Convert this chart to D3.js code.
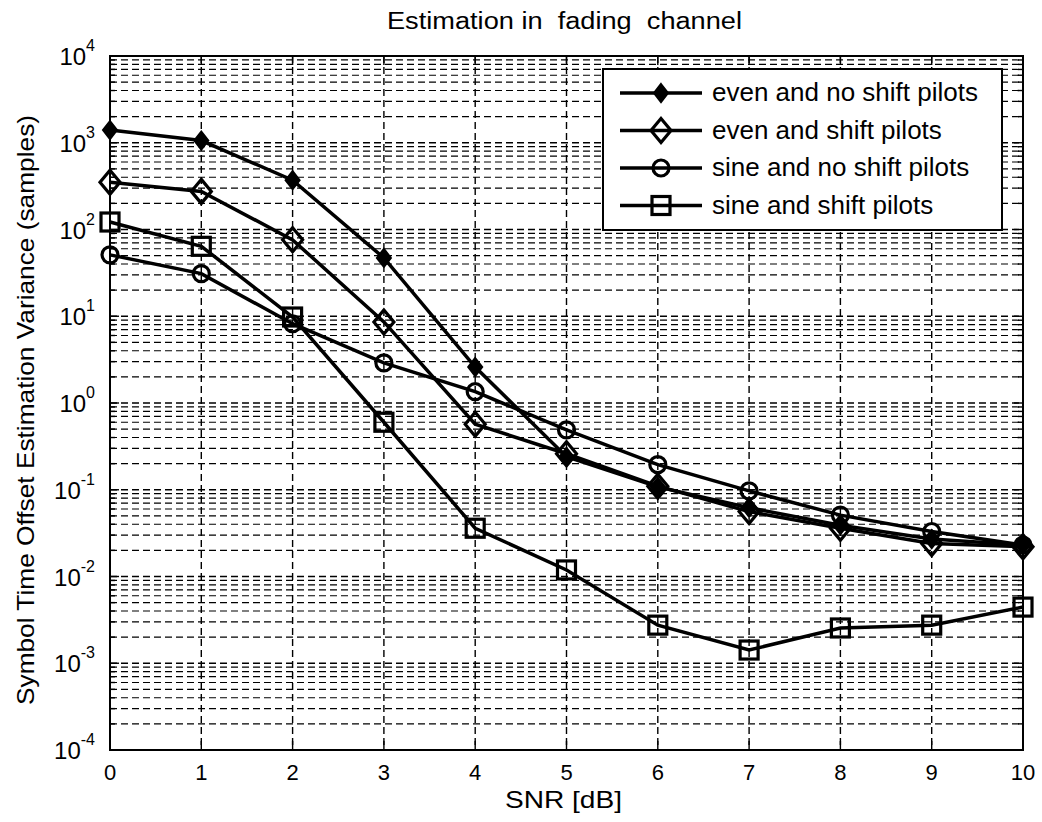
<!DOCTYPE html>
<html><head><meta charset="utf-8">
<script src="https://cdn.jsdelivr.net/npm/d3@7"></script>
<style>
body{margin:0;background:#fff;}
text{font-family:"Liberation Sans",Arial,sans-serif;fill:#000;}
</style></head>
<body><svg id="c" width="1042" height="822"></svg>
<script>
const snr = [0,1,2,3,4,5,6,7,8,9,10];
const evenNoShift = [1400,1060,370,47,2.6,0.24,0.108,0.062,0.039,0.027,0.023];
const evenShift   = [350,275,76,8.6,0.57,0.26,0.11,0.056,0.036,0.024,0.022];
const sineNoShift = [51,31,8.2,2.9,1.35,0.49,0.195,0.097,0.051,0.033,0.023];
const sineShift   = [122,64,9.8,0.6,0.036,0.0119,0.00275,0.00142,0.00255,0.00275,0.00444];
const seriesNames = ["even and no shift pilots","even and shift pilots","sine and no shift pilots","sine and shift pilots"];
const xTicks = [0,1,2,3,4,5,6,7,8,9,10];
const yExponents = [-4,-3,-2,-1,0,1,2,3,4];
const titleText = "Estimation in  fading  channel";
const xLabel = "SNR [dB]";
const yLabel = "Symbol Time Offset Estimation Variance (samples)";

const L=110,T=56,R=1023,B=750;
const svg = d3.select("#c");
const x = d3.scaleLinear().domain([0,10]).range([L,R]);
const y = d3.scaleLog().domain([1e-4,1e4]).range([B,T]);

// grid
const g = svg.append("g").attr("stroke","#000").attr("stroke-width",1.4).attr("stroke-dasharray","7,4");
const minor=[];
yExponents.slice(0,-1).forEach(e=>{for(let k=2;k<=9;k++) minor.push(k*Math.pow(10,e));});
g.selectAll(".ym").data(minor).enter().append("line")
 .attr("x1",L).attr("x2",R).attr("y1",d=>y(d)).attr("y2",d=>y(d)).attr("stroke-width",1.2);
g.selectAll(".yM").data(yExponents.slice(1,-1)).enter().append("line")
 .attr("x1",L).attr("x2",R).attr("y1",d=>y(Math.pow(10,d))).attr("y2",d=>y(Math.pow(10,d)));
g.selectAll(".xM").data(xTicks.slice(1,-1)).enter().append("line")
 .attr("y1",T).attr("y2",B).attr("x1",d=>x(d)).attr("x2",d=>x(d));

// ticks inside
const tk = svg.append("g").attr("stroke","#000").attr("stroke-width",1.4);
xTicks.forEach(d=>{
  tk.append("line").attr("x1",x(d)).attr("x2",x(d)).attr("y1",B).attr("y2",B-9);
  tk.append("line").attr("x1",x(d)).attr("x2",x(d)).attr("y1",T).attr("y2",T+9);
});
yExponents.forEach(e=>{
  const v=Math.pow(10,e);
  tk.append("line").attr("x1",L).attr("x2",L+9).attr("y1",y(v)).attr("y2",y(v));
  tk.append("line").attr("x1",R).attr("x2",R-9).attr("y1",y(v)).attr("y2",y(v));
});
minor.forEach(v=>{
  tk.append("line").attr("x1",L).attr("x2",L+5).attr("y1",y(v)).attr("y2",y(v));
  tk.append("line").attr("x1",R).attr("x2",R-5).attr("y1",y(v)).attr("y2",y(v));
});

// frame
svg.append("rect").attr("x",L).attr("y",T).attr("width",R-L).attr("height",B-T)
 .attr("fill","none").attr("stroke","#000").attr("stroke-width",2);

// tick labels
svg.selectAll(".xl").data(xTicks).enter().append("text")
 .attr("x",d=>x(d)).attr("y",B+30).attr("text-anchor","middle").attr("font-size",22).text(d=>d);
const yl = svg.selectAll(".yl").data(yExponents).enter().append("text")
 .attr("x",L-15).attr("y",d=>y(Math.pow(10,d))+9).attr("text-anchor","end").attr("font-size",24);
yl.append("tspan").text("10");
yl.append("tspan").attr("dy",-14).attr("font-size",16).text(d=>d);

// titles
svg.append("text").attr("x",387).attr("y",29).attr("font-size",23)
 .attr("textLength",355).attr("lengthAdjust","spacingAndGlyphs")
 .attr("xml:space","preserve").style("white-space","pre").text(titleText);
svg.append("text").attr("x",505).attr("y",808).attr("font-size",24)
 .attr("textLength",117).attr("lengthAdjust","spacingAndGlyphs").text(xLabel);
svg.append("text").attr("transform",`translate(34,${410}) rotate(-90)`).attr("text-anchor","middle")
 .attr("font-size",24).attr("textLength",590).attr("lengthAdjust","spacingAndGlyphs").text(yLabel);

// markers
function marker(sel,type,cx,cy){
  if(type===0){
    sel.append("path").attr("d",`M${cx},${cy-9}L${cx+7},${cy}L${cx},${cy+9}L${cx-7},${cy}Z`)
      .attr("fill","#000").attr("stroke","#000").attr("stroke-width",2);
  } else if(type===1){
    sel.append("path").attr("d",`M${cx},${cy-12}L${cx+10},${cy}L${cx},${cy+12}L${cx-10},${cy}Z`)
      .attr("fill","none").attr("stroke","#000").attr("stroke-width",3.2);
  } else if(type===2){
    sel.append("circle").attr("cx",cx).attr("cy",cy).attr("r",8)
      .attr("fill","none").attr("stroke","#000").attr("stroke-width",3.2);
  } else {
    sel.append("rect").attr("x",cx-9).attr("y",cy-9).attr("width",18).attr("height",18)
      .attr("fill","none").attr("stroke","#000").attr("stroke-width",3.2);
  }
}
const all=[evenNoShift,evenShift,sineNoShift,sineShift];
const line = d3.line().x((d,i)=>x(snr[i])).y(d=>y(d));
all.forEach((vals,si)=>{
  const sg = svg.append("g");
  sg.append("path").attr("d",line(vals)).attr("fill","none").attr("stroke","#000").attr("stroke-width",3.5);
  vals.forEach((v,i)=>marker(sg,si,x(snr[i]),y(v)));
});

// legend
const lg = svg.append("g");
lg.append("rect").attr("x",603).attr("y",69).attr("width",399).attr("height",161)
 .attr("fill","#fff").attr("stroke","#000").attr("stroke-width",2);
seriesNames.forEach((n,i)=>{
  const cy = 93 + i*37.5;
  lg.append("line").attr("x1",620).attr("x2",702).attr("y1",cy).attr("y2",cy).attr("stroke","#000").attr("stroke-width",3.5);
  marker(lg,i,661,cy);
  lg.append("text").attr("x",712).attr("y",cy+8).attr("font-size",26).text(n);
});
</script></body></html>
